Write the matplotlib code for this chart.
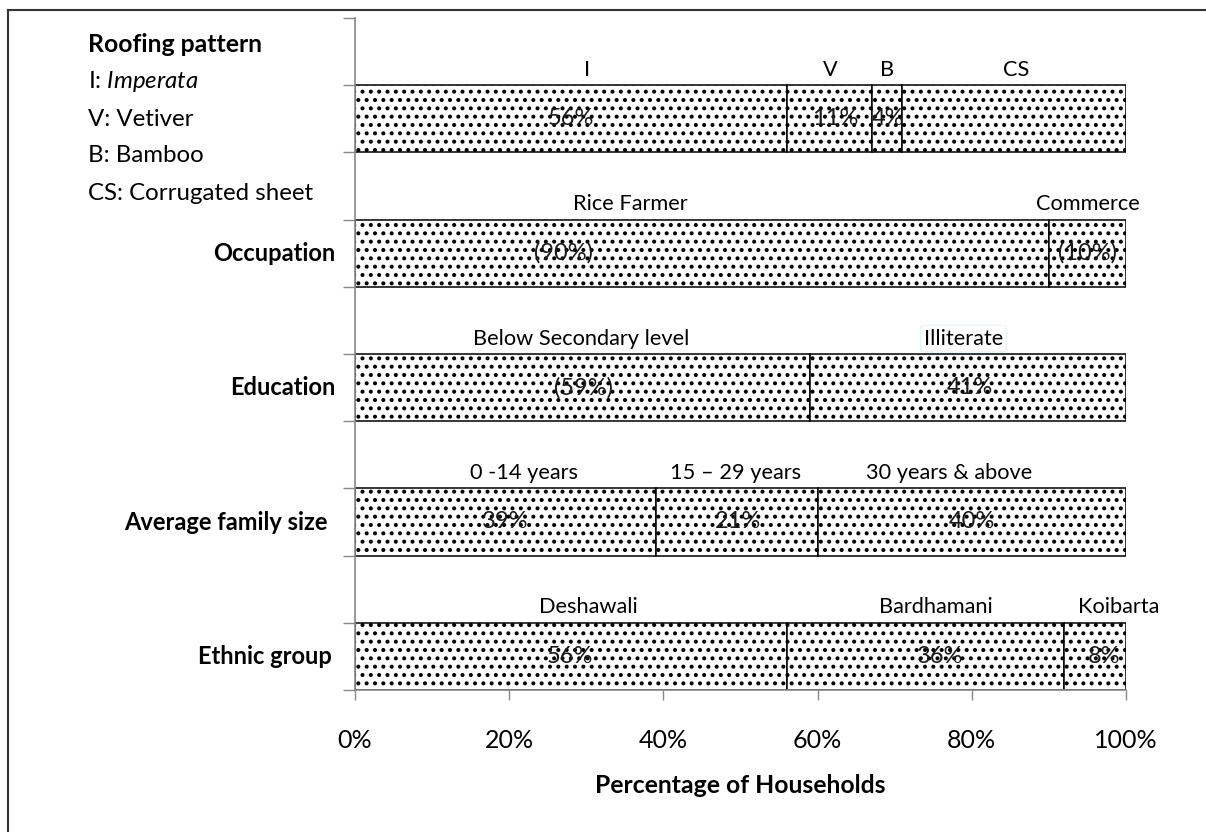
import matplotlib
matplotlib.use("Agg")
import matplotlib.pyplot as plt
from matplotlib.lines import Line2D
from matplotlib.ticker import FixedLocator, PercentFormatter

plt.rcParams["font.family"] = ["Lato", "DejaVu Sans"]
plt.rcParams["mathtext.fontset"] = "custom"
plt.rcParams["mathtext.rm"] = "Lato"
plt.rcParams["mathtext.it"] = "Lato:italic"
plt.rcParams["hatch.linewidth"] = 1.7

# rows from bottom to top
row_names = ["Ethnic group", "Average family size", "Education", "Occupation", ""]

ethnic_values = [56, 36, 8]
ethnic_names = ["Deshawali", "Bardhamani", "Koibarta"]
ethnic_pct = ["56%", "36%", "8%"]

family_values = [39, 21, 40]
family_names = ["0 -14 years", "15 \u2013 29 years", "30 years & above"]
family_pct = ["39%", "21%", "40%"]

education_values = [59, 41]
education_names = ["Below Secondary level", "Illiterate"]
education_pct = ["(59%)", "41%"]

occupation_values = [90, 10]
occupation_names = ["Rice Farmer", "Commerce"]
occupation_pct = ["(90%)", "(10%)"]

roofing_values = [56, 11, 4, 29]
roofing_names = ["I", "V", "B", "CS"]
roofing_pct = ["56%", "11%", "4%", ""]

# where the original text boxes sit (x, in %)
name_x = [[30.3, 75.4, 99.0], [21.9, 49.4, 77.0], [29.4, 78.9], [35.7, 95.0],
          [30.1, 61.6, 69.0, 85.7]]
pct_x = [[27.9, 75.9, 97.1], [19.5, 49.7, 80.0], [29.7, 79.8], [27.0, 95.0],
         [28.0, 62.3, 69.1, 0]]
row_label_x = [-3.0, -3.5, -2.5, -2.5, 0]

legend_lines = ["I: $\\it{Imperata}$", "V: Vetiver", "B: Bamboo", "CS: Corrugated sheet"]

rows = [
    (ethnic_values, ethnic_names, ethnic_pct),
    (family_values, family_names, family_pct),
    (education_values, education_names, education_pct),
    (occupation_values, occupation_names, occupation_pct),
    (roofing_values, roofing_names, roofing_pct),
]

fig = plt.figure(figsize=(12.06, 8.32), dpi=100)
ax = fig.add_axes([355 / 1206, 1 - 690 / 832, 771 / 1206, 672 / 832])

bar_h = 0.5
for i, (vals, names, pcts) in enumerate(rows):
    left = 0
    for j, v in enumerate(vals):
        ax.barh(i, v, left=left, height=bar_h, color="white", edgecolor="black",
                hatch="..", linewidth=1.1)
        left += v
        box = None
        if names[j] == "Illiterate":
            box = dict(boxstyle="round,pad=0.15", fc="none", ec="#e2f6f8", lw=0.8)
        ax.text(name_x[i][j], i + bar_h / 2 + 0.04, names[j], ha="center", va="bottom",
                fontsize=15.7, color="black", bbox=box)
        if pcts[j]:
            ax.text(pct_x[i][j], i, pcts[j], ha="center", va="center",
                    fontsize=17, color="#1a1a1a")
    if row_names[i]:
        ax.text(row_label_x[i], i, row_names[i], ha="right", va="center", fontsize=17,
                fontweight="bold")

ax.set_xlim(0, 100)
ax.set_ylim(-0.25, 4.75)
ax.xaxis.set_major_locator(FixedLocator([0, 20, 40, 60, 80, 100]))
ax.xaxis.set_major_formatter(PercentFormatter(decimals=0))
ax.yaxis.set_major_locator(FixedLocator([k * 0.5 - 0.25 for k in range(11)]))
ax.set_yticklabels([])
ax.tick_params(axis="x", length=7, width=1, color="#888888", labelsize=18, pad=21)
ax.tick_params(axis="y", length=9, width=1, color="#888888")
ax.set_xlabel("Percentage of Households", fontsize=17.8, fontweight="bold", labelpad=16)

for side in ["top", "right"]:
    ax.spines[side].set_visible(False)
for side in ["left", "bottom"]:
    ax.spines[side].set_color("#888888")
    ax.spines[side].set_linewidth(1.2)

# roofing legend block
fig.text(88 / 1206, 1 - 45 / 832, "Roofing pattern", fontsize=17.8, fontweight="bold",
         va="center", ha="left")
for k, line in enumerate(legend_lines):
    fig.text(88 / 1206, 1 - (82 + 37 * k) / 832, line, fontsize=17.3, va="center", ha="left")

# outer frame (only left and top show)
fig.add_artist(Line2D([8 / 1206, 8 / 1206], [0, 1 - 10 / 832], color="#333333", lw=1.5))
fig.add_artist(Line2D([8 / 1206, 1], [1 - 10 / 832, 1 - 10 / 832], color="#333333", lw=1.5))

fig.savefig("out.png", dpi=100)
plt.close(fig)
